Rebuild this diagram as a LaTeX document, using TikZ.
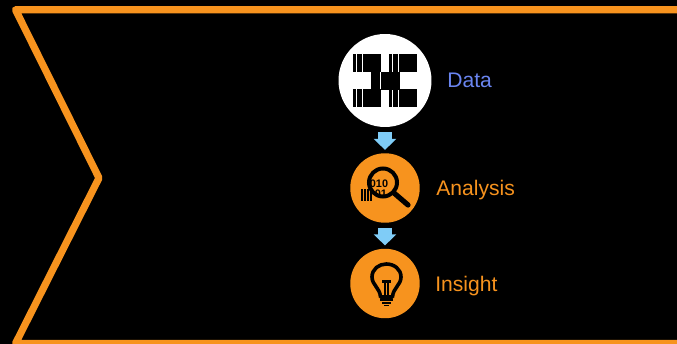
\documentclass[tikz,border=0pt]{standalone}
\usepackage{fontspec}
\setmainfont{Liberation Sans}
\usetikzlibrary{arrows.meta}
\definecolor{panelorange}{HTML}{F7931E}
\definecolor{flowblue}{HTML}{7FCCF7}
\definecolor{datablue}{HTML}{6A85F0}
\tikzset{
    stepcircle/.style={circle,fill=panelorange,minimum size=1.39cm,inner sep=0},
    steplabel/.style={anchor=base west,text=panelorange,inner sep=0,font=\fontsize{12}{14}\selectfont},
    bitlabel/.style={inner sep=0,font=\fontsize{6.2}{6.5}\selectfont\bfseries},
    flowarrow/.style={line width=14*.02cm,flowblue,-{Triangle[width=22*.02cm,length=11*.02cm]}},
}
\begin{document}
\begin{tikzpicture}[x=.02cm,y=-.02cm]
    \pgfmathsetmacro{\panelwidth}{677}
    \pgfmathsetmacro{\panelheight}{344}
    \pgfmathsetmacro{\blockheight}{18}
    \useasboundingbox (0,0) rectangle (\panelwidth,\panelheight);
    \fill[black] (0,0) rectangle (\panelwidth,\panelheight);
    \draw[panelorange,line width=7.2*.02cm,line join=round] (\panelwidth+5,9.7) -- (15.5,9.7) -- (99,178) -- (15.5,343.5) -- (\panelwidth+5,343.5);

    \node[circle,fill=white,minimum size=1.86cm,inner sep=0] (data) at (385,80.5) {};
    \node[stepcircle] (analysis) at (385,188) {};
    \node[stepcircle] (insight) at (385,283.5) {};

    % bar blocks: left edge, top edge
    \foreach \blockx/\blocky in {352.7/54,388.7/54,371.3/72,352.7/89.5,388.7/89.5}{
        \foreach \barstart/\barend in {0/3.2,3.9/8.8,9.8/28.3}{
            \fill[black] (\blockx+\barstart,\blocky) rectangle (\blockx+\barend,\blocky+\blockheight);
        }
    }

    % magnifier
    \foreach \dotx in {360.5,363.5,366.5,369.5}{
        \foreach \doty in {189.5,192.5,195.5,198.5}{
            \fill[black] (\dotx,\doty) rectangle (\dotx+2.3,\doty+2.3);
        }
    }
    \node[bitlabel] (bitsone) at (379,183.5) {010};
    \node[bitlabel] (bitstwo) at (381,194) {01};
    \draw[black,line width=4*.02cm] (383,182.5) circle (14);
    \draw[black,line width=5.2*.02cm,line cap=round] (394,193) -- (408,205);

    % bulb
    \draw[black,line width=3.6*.02cm,line join=round] (380.5,297) .. controls (380,288) and (372,285) .. (372,277) .. controls (372,269) and (379,264) .. (386.3,264) .. controls (394,264) and (401,269) .. (401,277) .. controls (401,285) and (393,288) .. (392.5,297) -- cycle;
    \fill[black] (382,280.5) rectangle (391,283);
    \fill[black] (383.6,283) rectangle (385.6,296);
    \fill[black] (387.4,283) rectangle (389.4,296);
    \fill[black] (380,299) rectangle (393,301);
    \fill[black] (382,302) rectangle (391,304);
    \fill[black] (384,305) rectangle (389,306.5);

    \draw[flowarrow,shorten <=5*.02cm,shorten >=3*.02cm] (data) -- (analysis);
    \draw[flowarrow,shorten <=5*.02cm,shorten >=3*.02cm] (analysis) -- (insight);

    \node[steplabel,text=datablue] (datalabel) at (447,87.7) {Data};
    \node[steplabel] (analysislabel) at (436,195.7) {Analysis};
    \node[steplabel] (insightlabel) at (435,291.7) {Insight};
\end{tikzpicture}
\end{document}
